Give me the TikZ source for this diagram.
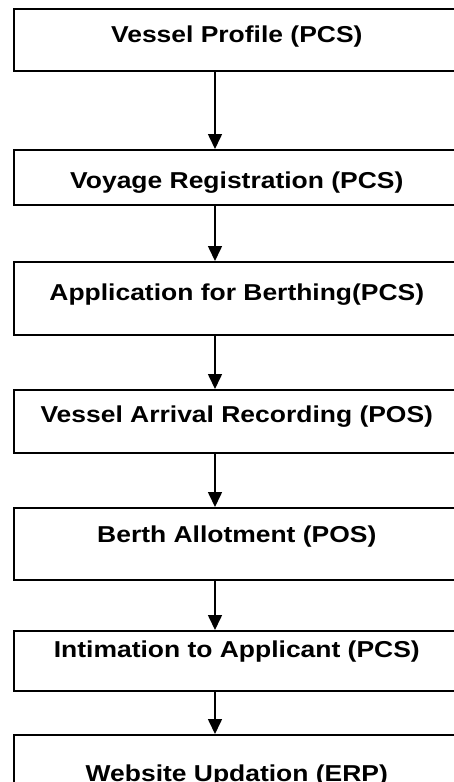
\documentclass[tikz,border=0pt]{standalone}
\usepackage{fontspec}
\setmainfont{Liberation Sans}[FakeStretch=1.15]
\usetikzlibrary{arrows.meta, positioning}

\begin{document}
\begin{tikzpicture}[
  x=1pt, y=-1pt,
  stage/.style 2 args={
    rectangle,
    draw=black,
    line width=1.6pt,
    anchor=north west,
    minimum width=446pt,
    inner ysep=0pt,
    text height=#2,
    text depth=#1-#2,
    align=center,
    font=\fontsize{23}{27}\selectfont\bfseries
  },
  arr/.style={-{Triangle[width=14pt, length=15pt]}, line width=1.6pt},
]

\useasboundingbox (0,0) rectangle (454,782);
\clip (0,0) rectangle (454,782);

\coordinate (axis) at (215,0);

\node[stage={62pt}{34pt}] (profile) at (13,8) {Vessel Profile (PCS)};

\node[stage={55pt}{39pt}] (voyage) at (13,149) {Voyage Registration (PCS)};

\node[stage={73pt}{39pt}] (berthing) at (13,261) {Application for Berthing(PCS)};

\node[stage={63pt}{33pt}] (arrival) at (13,389) {Vessel Arrival Recording (POS)};

\node[stage={72pt}{35pt}] (allot) at (13,507) {Berth Allotment (POS)};

\node[stage={60pt}{27pt}] (intimation) at (13,630) {Intimation to Applicant (PCS)};

\node[stage={70pt}{47pt}] (website) at (13,734) {Website Updation (ERP)};

\draw[arr] (profile.south -| axis) -- (voyage.north -| axis);
\draw[arr] (voyage.south -| axis) -- (berthing.north -| axis);
\draw[arr] (berthing.south -| axis) -- (arrival.north -| axis);
\draw[arr] (arrival.south -| axis) -- (allot.north -| axis);
\draw[arr] (allot.south -| axis) -- (intimation.north -| axis);
\draw[arr] (intimation.south -| axis) -- (website.north -| axis);

\end{tikzpicture}
\end{document}
